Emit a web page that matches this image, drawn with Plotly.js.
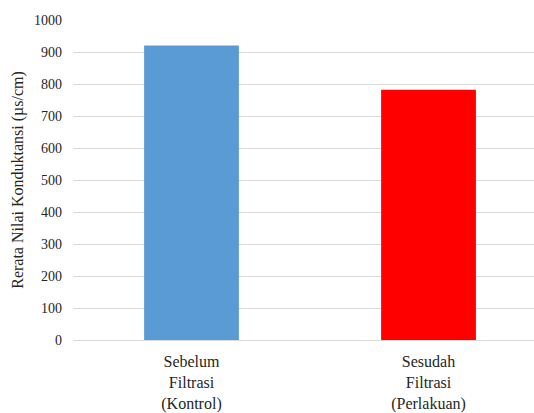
<!DOCTYPE html>
<html>
<head>
<meta charset="utf-8">
<script src="https://cdn.plot.ly/plotly-3.0.1.min.js"></script>
<style>html,body{margin:0;padding:0;background:#fff;}#chart{width:534px;height:413px;}</style>
</head>
<body>
<div id="chart"></div>
<script>
var categories = ["Sebelum<br>Filtrasi<br>(Kontrol)", "Sesudah<br>Filtrasi<br>(Perlakuan)"];
var values = [920, 782];
var barColors = ["#5b9bd5", "#ff0000"];
var yTicks = [0, 100, 200, 300, 400, 500, 600, 700, 800, 900, 1000];

var FONT = "Liberation Serif";

var data = [{
  type: "bar",
  x: [0, 1],
  y: values,
  width: 0.4,
  marker: {color: barColors, line: {width: 0}},
  hoverinfo: "none"
}];

var layout = {
  width: 534, height: 413,
  margin: {l: 73, r: 0, t: 20, b: 73, pad: 0},
  paper_bgcolor: "#fff", plot_bgcolor: "#fff",
  showlegend: false,
  font: {family: FONT, color: "#262626"},
  xaxis: {
    range: [-0.5, 1.445],
    tickmode: "array", tickvals: [0, 1], ticktext: categories,
    showgrid: false, zeroline: false, showline: false,
    ticks: "", ticklabelstandoff: 10,
    tickfont: {family: FONT, size: 16, color: "#262626"},
    fixedrange: true
  },
  yaxis: {
    range: [0, 1000],
    tickmode: "array", tickvals: yTicks,
    showgrid: true, gridcolor: "#d9d9d9", gridwidth: 1,
    zeroline: true, zerolinecolor: "#d9d9d9", zerolinewidth: 1,
    showline: false, ticks: "", ticklabelstandoff: 10,
    tickfont: {family: FONT, size: 14, color: "#262626"},
    title: {text: "Rerata Nilai Konduktansi (µs/cm)", font: {family: FONT, size: 16, color: "#262626"}, standoff: 6},
    fixedrange: true
  }
};

Plotly.newPlot("chart", data, layout, {displayModeBar: false, staticPlot: true});
</script>
</body>
</html>
